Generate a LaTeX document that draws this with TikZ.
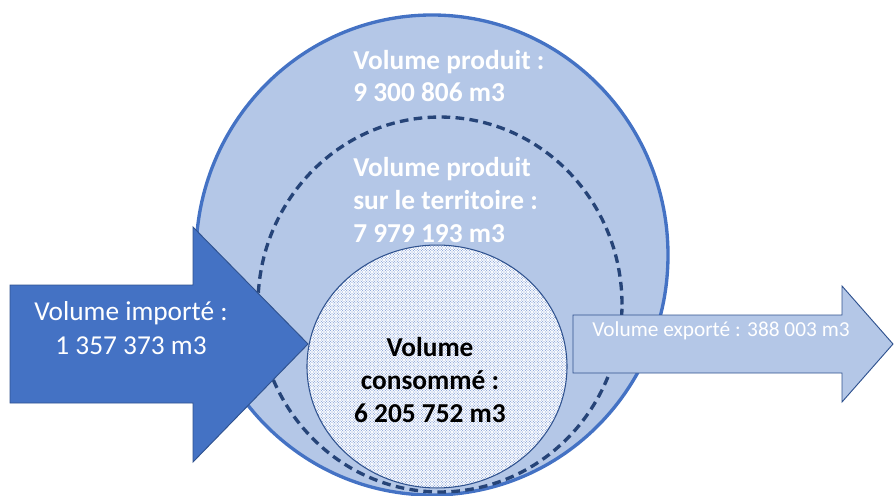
\documentclass[tikz,border=0pt]{standalone}
\usepackage{fontspec}
\setmainfont{Carlito}
\usetikzlibrary{patterns.meta}
\definecolor{lightblue}{HTML}{B4C7E7}
\definecolor{midblue}{HTML}{4472C4}
\definecolor{darkblue}{HTML}{2F528F}
\definecolor{dashblue}{HTML}{264478}
\definecolor{dotblue}{HTML}{6F90D0}
\tikzset{
  outerring/.style={fill=lightblue, draw=midblue, line width=2.5pt},
  dashring/.style={draw=dashblue, line width=2.5pt, dash pattern=on 6.5pt off 4pt},
  innerdisc/.style={draw=darkblue, line width=0.8pt},
  importarrow/.style={fill=midblue, draw=darkblue, line width=0.7pt, line join=miter},
  exportarrow/.style={fill=lightblue, draw=darkblue, line width=0.7pt, line join=miter},
  bigbold/.style={font=\fontsize{20.5}{24.5}\selectfont\bfseries, inner sep=0pt},
  whitelabel/.style={bigbold, text=white, align=left, anchor=west},
  importlabel/.style={font=\fontsize{20.5}{26}\selectfont, text=white, align=center, inner sep=0pt},
  exportlabel/.style={font=\fontsize{16}{19}\selectfont, text=white, anchor=west, inner sep=0pt},
}
\begin{document}
\begin{tikzpicture}[x=0.75pt, y=-0.75pt]
\useasboundingbox (0,0) rectangle (894,496);
% outer ellipse (volume produit)
\draw[outerring] (432,255) ellipse [x radius=177pt, y radius=180pt];
% dashed ellipse (produit sur le territoire)
\draw[dashring] (440,304.5) ellipse [x radius=136.5pt, y radius=140.6pt];
% inner dotted disc (consommé)
\fill[white] (437,366.5) ellipse [x radius=97.5pt, y radius=91.1pt];
\fill[pattern={Dots[distance=2pt, radius=0.42pt]}, pattern color=dotblue] (437,366.5) ellipse [x radius=97.5pt, y radius=91.1pt];
\fill[pattern={Dots[distance=2pt, radius=0.42pt, xshift=1pt, yshift=1pt]}, pattern color=dotblue] (437,366.5) ellipse [x radius=97.5pt, y radius=91.1pt];
\draw[innerdisc] (437,366.5) ellipse [x radius=97.5pt, y radius=91.1pt];
% import arrow
\draw[importarrow] (10,285) -- (193,285) -- (193,227) -- (308,344) -- (193,462) -- (193,403) -- (10,403) -- cycle;
% export arrow
\draw[exportarrow] (573,315) -- (842,315) -- (842,286) -- (893,344) -- (842,402) -- (842,373) -- (573,373) -- cycle;
% labels
\node[whitelabel] (prod) at (353,76) {Volume produit :\\9 300 806 m3};
\node[whitelabel] (terr) at (353,200) {Volume produit\\sur le territoire :\\7 979 193 m3};
\node[bigbold, align=center] (cons) at (430,380) {Volume\\consommé :\\6 205 752 m3};
\node[importlabel] (imp) at (131,328) {Volume importé :\\1 357 373 m3};
\node[exportlabel] (exp) at (592,331) {Volume exporté : 388 003 m3};
\end{tikzpicture}
\end{document}
